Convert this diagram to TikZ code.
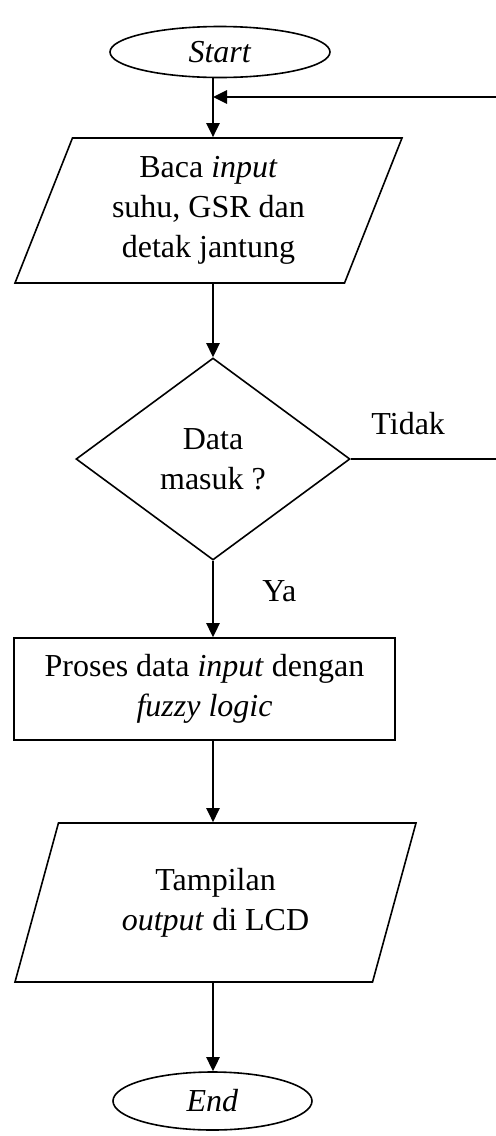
\documentclass[tikz,border=0pt]{standalone}
\usepackage{fontspec}
\setmainfont{Liberation Serif}
\usetikzlibrary{shapes.geometric,arrows.meta}
\begin{document}
\begin{tikzpicture}[
    x=0.5pt, y=-0.5pt,
    every node/.style={font=\fontsize{16}{20}\selectfont, align=center, inner sep=0pt},
    terminal/.style={ellipse, draw, line width=0.8pt},
    io/.style={trapezium, trapezium stretches body, draw, line width=0.8pt},
    decision/.style={diamond, draw, line width=0.8pt},
    process/.style={rectangle, draw, line width=0.8pt},
    arrow/.style={-{Triangle[length=7pt,width=6.5pt]}, line width=1.3pt},
    line/.style={line width=1.3pt},
]
\useasboundingbox (0,0) rectangle (496,1136);
\coordinate (spine) at (213,0);
\node[terminal, minimum width=110pt, minimum height=25.5pt] (start) at (220,52) {\textit{Start}};
\node[io, trapezium left angle=62, trapezium right angle=118, minimum width=193.5pt, minimum height=72.5pt] (in) at (208.5,210.5) {Baca \textit{input}\\suhu, GSR dan\\detak jantung};
\node[decision, minimum width=137pt, minimum height=101pt] (dec) at (213,459) {Data\\masuk ?};
\node[process, minimum width=190.5pt, minimum height=51pt] (proc) at (204.5,689) {Proses data \textit{input} dengan\\\textit{fuzzy logic}};
\node[io, trapezium left angle=57.8, trapezium right angle=122.2, minimum width=200.5pt, minimum height=79.5pt] (out) at (215.5,902.5) {Tampilan\\\textit{output} di LCD};
\node[terminal, minimum width=99.5pt, minimum height=29pt] (end) at (212.5,1101) {\textit{End}};
\coordinate (back) at (498,97);
\coordinate (no) at (dec.east -| back);
\draw[arrow] (start.south -| spine) -- (in.north -| spine);
\draw[arrow] (in.south -| spine) -- (dec.north);
\draw[arrow] (dec.south) -- (proc.north -| spine) node[pos=0.4, right=24pt] {Ya};
\draw[arrow] (proc.south -| spine) -- (out.north -| spine);
\draw[arrow] (out.south -| spine) -- (end.north -| spine);
\draw[line width=0.6pt] (dec.east) -- (no) node[pos=0.39, above=12pt] {Tidak};
\draw[line] (no) -- (back);
\draw[arrow] (back) -- (back -| spine);
\end{tikzpicture}
\end{document}
